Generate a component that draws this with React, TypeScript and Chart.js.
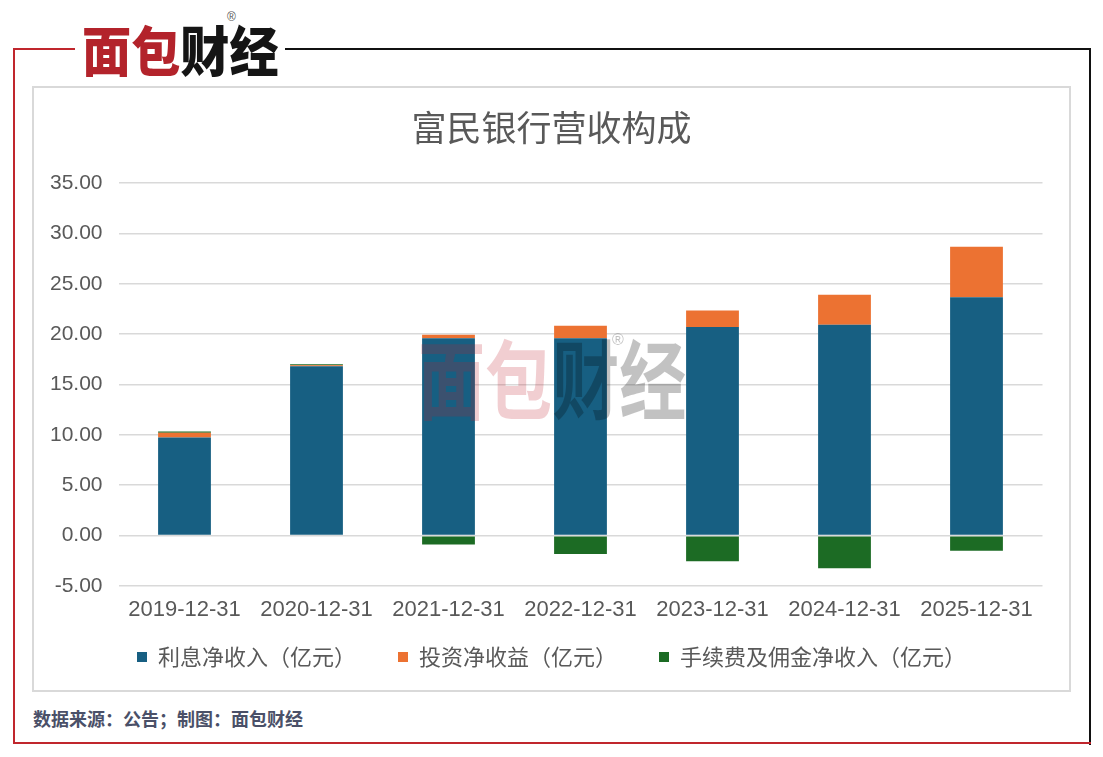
import { useEffect, useRef } from "react";
import { Chart, registerables } from "chart.js";

Chart.register(...registerables);

const categories = [
  "2019-12-31",
  "2020-12-31",
  "2021-12-31",
  "2022-12-31",
  "2023-12-31",
  "2024-12-31",
  "2025-12-31",
];
const interestIncome = [9.73, 16.82, 19.6, 19.6, 20.7, 20.92, 23.67];
const investmentIncome = [0.47, 0.1, 0.33, 1.22, 1.65, 2.98, 5.0];
const feeIncome = [0.13, 0.1, -0.89, -1.82, -2.54, -3.24, -1.49];
const seriesNames = [
  "利息净收入（亿元）",
  "投资净收益（亿元）",
  "手续费及佣金净收入（亿元）",
];
const yMin = -5;
const yMax = 35;
const yStep = 5;

const CJK = '"Noto Sans CJK SC", "Noto Sans", sans-serif';
const LATIN = '"Liberation Sans", Arial, "Noto Sans CJK SC", sans-serif';
const GAP = "\u3000\u2002";

export default function App() {
  const ref = useRef<HTMLCanvasElement | null>(null);

  useEffect(() => {
    if (!ref.current) return;
    const chart = new Chart(ref.current, {
      type: "bar",
      data: {
        labels: categories,
        datasets: [
          { label: seriesNames[0] + GAP, data: interestIncome, backgroundColor: "#175f82", yAxisID: "y" },
          { label: seriesNames[1] + GAP, data: investmentIncome, backgroundColor: "#ec7232", yAxisID: "y" },
          { label: seriesNames[2], data: feeIncome, backgroundColor: "#1c6b24", yAxisID: "y" },
        ],
      },
      options: {
        animation: false,
        responsive: false,
        maintainAspectRatio: false,
        datasets: { bar: { barPercentage: 0.4, categoryPercentage: 1 } },
        layout: { padding: { left: 0, right: 0, top: 0, bottom: 12 } },
        plugins: {
          tooltip: { enabled: false },
          title: {
            display: true,
            text: "富民银行营收构成",
            color: "#595959",
            font: { family: CJK, size: 35, weight: "normal", lineHeight: 1.2 },
            padding: { top: 19, bottom: 34 },
          },
          legend: {
            display: true,
            position: "bottom",
            labels: {
              boxWidth: 10,
              boxHeight: 10,
              padding: 20,
              color: "#595959",
              font: { family: CJK, size: 22 },
            },
          },
        },
        scales: {
          x: {
            stacked: true,
            grid: { display: false, drawTicks: false },
            border: { display: false },
            ticks: {
              color: "#595959",
              font: { family: LATIN, size: 22, lineHeight: 1.2 },
              padding: 11,
              maxRotation: 0,
              autoSkip: false,
            },
            afterFit: (s: any) => {
              s.height = 40;
            },
          },
          y: {
            stacked: true,
            position: "left",
            min: yMin,
            max: yMax,
            grid: { color: "#d9d9d9", lineWidth: 1.6, drawTicks: false },
            border: { display: false },
            ticks: {
              stepSize: yStep,
              color: "#595959",
              font: { family: LATIN, size: 21 },
              padding: 16,
              callback: (v: any) => Number(v).toFixed(2),
            },
            afterFit: (s: any) => {
              s.width = 84.5;
            },
          },
          yRight: {
            type: "linear",
            position: "right",
            display: true,
            grid: { display: false, drawTicks: false },
            border: { display: false },
            ticks: { display: false },
            afterFit: (s: any) => {
              s.width = 26.5;
            },
          },
        },
      },
    });
    return () => chart.destroy();
  }, []);

  const abs = (o: any) => ({ position: "absolute" as const, ...o });

  return (
    <div
      style={{
        position: "fixed",
        left: 0,
        top: 0,
        width: 1103,
        height: 757,
        background: "#fff",
        overflow: "hidden",
      }}
    >
      {/* outer frame */}
      <div style={abs({ left: 13, top: 48, width: 2, height: 696, background: "#c0262d" })} />
      <div style={abs({ left: 13, top: 48, width: 62, height: 2, background: "#c0262d" })} />
      <div style={abs({ left: 285, top: 48, width: 806, height: 2, background: "#111" })} />
      <div style={abs({ left: 1089, top: 48, width: 2, height: 697, background: "#111" })} />
      <div style={abs({ left: 13, top: 742, width: 1078, height: 2, background: "#c0262d" })} />

      {/* logo */}
      <div
        style={abs({
          left: 82,
          top: 22,
          fontFamily: CJK,
          fontWeight: 800,
          fontSize: 54,
          lineHeight: "54px",
          whiteSpace: "nowrap",
          transform: "scaleX(0.91)",
          transformOrigin: "left top",
        })}
      >
        <span style={{ color: "#b3232b" }}>面包</span>
        <span style={{ color: "#151515" }}>财经</span>
      </div>
      <div
        style={abs({
          left: 227,
          top: 11,
          fontFamily: LATIN,
          fontSize: 12,
          lineHeight: "12px",
          color: "#555",
        })}
      >
        ®
      </div>

      {/* inner frame */}
      <div
        style={abs({
          left: 32,
          top: 86,
          width: 1035,
          height: 602,
          border: "2px solid #d9d9d9",
        })}
      />
      <canvas ref={ref} width={1035} height={602} style={abs({ left: 34, top: 88, width: 1035, height: 602 })} />

      {/* watermark */}
      <div
        style={abs({
          left: 418,
          top: 333,
          fontFamily: CJK,
          fontWeight: 700,
          fontSize: 86,
          lineHeight: "86px",
          whiteSpace: "nowrap",
          transform: "scaleX(0.78)",
          transformOrigin: "left top",
          pointerEvents: "none",
        })}
      >
        <span style={{ color: "rgba(190,30,45,0.22)" }}>面包</span>
        <span style={{ color: "rgba(0,0,0,0.24)" }}>财经</span>
      </div>
      <div
        style={abs({
          left: 612,
          top: 332,
          fontFamily: LATIN,
          fontSize: 16,
          lineHeight: "16px",
          color: "rgba(0,0,0,0.25)",
          pointerEvents: "none",
        })}
      >
        ®
      </div>

      {/* footer */}
      <div
        style={abs({
          left: 33,
          top: 709,
          fontFamily: CJK,
          fontWeight: 700,
          fontSize: 18,
          lineHeight: "18px",
          color: "#4a5068",
          whiteSpace: "nowrap",
        })}
      >
        数据来源：公告；制图：面包财经
      </div>
    </div>
  );
}
